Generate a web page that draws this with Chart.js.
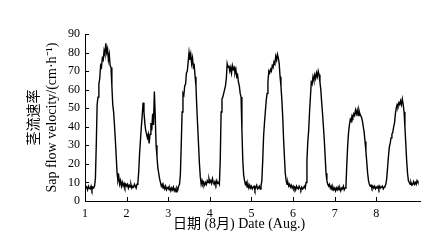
<!DOCTYPE html>
<html>
<head>
<meta charset="utf-8">
<script src="https://cdn.jsdelivr.net/npm/chart.js@4/dist/chart.umd.min.js"></script>
<style>
  html, body { margin: 0; padding: 0; background: #fff; }
  #wrap { width: 442px; height: 245px; }
</style>
</head>
<body>
<div id="wrap"><canvas id="sap"></canvas></div>
<script>
// half-hourly readings (cm/h), one array per day of August
const startDay = 1;
const stepDays = 1 / 48;
const day1 = [7, 8, 7.5, 6, 8, 7, 6.5, 8, 6, 7.5, 7, 8, 12, 30, 52, 56, 63, 66, 73, 72, 77, 76, 81, 79,
  85, 80, 82, 76, 79, 73, 72, 62, 52, 48, 41, 33, 24, 15, 11, 13, 9, 11, 8, 10, 8, 9.5, 7.5, 9];
const day2 = [8, 9, 7, 8.5, 7.5, 9, 7, 8, 7.5, 9, 8, 7, 9, 10, 16, 26, 33, 40, 46, 53, 48, 42, 38, 36,
  34, 36, 31, 36, 42, 38, 47, 41, 59, 46, 30, 24, 18, 15, 12, 10, 8, 9, 7, 8, 6.5, 8, 6, 7];
const day3 = [7.5, 6, 7, 5.5, 7, 6, 7.5, 5.5, 6.5, 5, 7, 6, 8, 9, 14, 30, 48, 58, 57, 62, 63, 69, 70, 75,
  80, 76, 79, 74, 77, 72, 73, 67, 62, 50, 40, 30, 20, 13, 9, 11, 9, 10, 8.5, 10, 9, 11, 10, 12];
const day4 = [10, 11, 9.5, 12, 10, 9, 10.5, 9, 11, 9.5, 10, 9, 22, 48, 55, 56, 58, 60, 62, 66, 74, 72, 73, 70,
  72, 69, 73, 71, 72, 69, 71, 67, 68, 64, 62, 58, 56, 38, 22, 14, 11, 9, 10, 7.5, 9, 7, 8.5, 7];
const day5 = [8, 6.5, 7.5, 8, 6, 7.5, 8.5, 6.5, 7, 8, 6.5, 8, 11, 22, 35, 42, 48, 54, 58, 64, 70, 69, 71, 70,
  73, 72, 75, 74, 78, 76, 79, 77, 74, 67, 62, 55, 46, 34, 24, 15, 11, 9, 10, 8, 9, 7.5, 8.5, 7];
const day6 = [8, 6.5, 7.5, 6, 8, 7, 6.5, 8, 7, 6, 7.5, 6.5, 7, 8, 7, 10, 22, 32, 38, 48, 56, 64, 63, 67,
  65, 68, 66, 69, 67, 70, 68, 64, 60, 53, 47, 40, 33, 24, 15, 11, 9, 8, 9, 7, 8, 6, 7.5, 6];
const day7 = [7, 5.5, 7, 6, 7.5, 6, 7, 5.5, 7, 6.5, 8, 6, 7, 8, 20, 30, 37, 41, 44, 43, 46, 45, 47, 46,
  49, 47, 49, 46, 49, 47, 46, 45, 43, 40, 37, 32, 27, 21, 15, 11, 9, 8, 8.5, 7, 8, 7, 8, 6.5];
const day8 = [7.5, 7, 8, 6.5, 8, 7, 7.5, 8, 6.5, 7.5, 8, 9, 12, 18, 24, 29, 31, 34, 36, 37, 40, 42, 47, 50,
  52, 51, 53, 52, 54, 52, 55, 52, 48, 40, 31, 22, 15, 11, 10, 9, 10, 8.5, 9, 10.5, 9, 10, 9, 11, 10];
const xTicks = [1, 2, 3, 4, 5, 6, 7, 8];
const yTicks = [0, 10, 20, 30, 40, 50, 60, 70, 80, 90];
const xTitle = '日期 (8月) Date (Aug.)';
const yTitle = ['茎流速率', 'Sap flow velocity/(cm·h⁻¹)'];

const sapFlow = [].concat(day1, day2, day3, day4, day5, day6, day7, day8);
const points = sapFlow.map((v, i) => ({ x: startDay + i * stepDays, y: v }));

const serif = "'Liberation Serif', 'Noto Sans CJK SC', serif";

// inward tick marks + x title placed as in the printed figure
const axisExtras = {
  id: 'axisExtras',
  afterDraw(chart) {
    const { ctx, chartArea } = chart;
    const xs = chart.scales.x, ys = chart.scales.y;
    ctx.save();
    ctx.strokeStyle = '#000';
    ctx.lineWidth = 1;
    ctx.beginPath();
    xTicks.forEach(v => {
      const px = Math.round(xs.getPixelForValue(v)) + 0.5;
      ctx.moveTo(px, chartArea.bottom);
      ctx.lineTo(px, chartArea.bottom - 4);
    });
    yTicks.forEach(v => {
      const py = Math.round(ys.getPixelForValue(v)) + 0.5;
      ctx.moveTo(chartArea.left, py);
      ctx.lineTo(chartArea.left + 4, py);
    });
    ctx.stroke();
    ctx.fillStyle = '#000';
    ctx.font = '14px ' + serif;
    ctx.textAlign = 'center';
    ctx.textBaseline = 'middle';
    ctx.fillText(xTitle, xs.getPixelForValue(4.7), chartArea.bottom + 23);
    ctx.restore();
  }
};

new Chart(document.getElementById('sap'), {
  type: 'line',
  data: {
    datasets: [{
      data: points,
      borderColor: '#000',
      borderWidth: 1.4,
      pointRadius: 0,
      tension: 0,
      fill: false
    }]
  },
  options: {
    responsive: true,
    maintainAspectRatio: false,
    animation: false,
    layout: { padding: { top: 34, right: 22, bottom: 0, left: 26 } },
    plugins: { legend: { display: false }, tooltip: { enabled: false } },
    scales: {
      x: {
        type: 'linear',
        min: 1,
        max: 9.05,
        afterBuildTicks: s => { s.ticks = xTicks.map(v => ({ value: v })); },
        afterFit: s => { s.height = 44; },
        grid: { display: false, drawTicks: false },
        border: { display: true, color: '#000', width: 1 },
        ticks: { color: '#000', padding: 6, font: { family: serif, size: 12 }, maxRotation: 0 },
        title: { display: false }
      },
      y: {
        min: 0,
        max: 90,
        afterBuildTicks: s => { s.ticks = yTicks.map(v => ({ value: v })); },
        afterFit: s => { s.width = 59; },
        grid: { display: false, drawTicks: false },
        border: { display: true, color: '#000', width: 1 },
        ticks: { color: '#000', padding: 5, font: { family: serif, size: 12 } },
        title: {
          display: true,
          text: yTitle,
          color: '#000',
          padding: { top: 0, bottom: 0 },
          font: { family: serif, size: 14, lineHeight: 1.25 }
        }
      }
    }
  },
  plugins: [axisExtras]
});
</script>
</body>
</html>
